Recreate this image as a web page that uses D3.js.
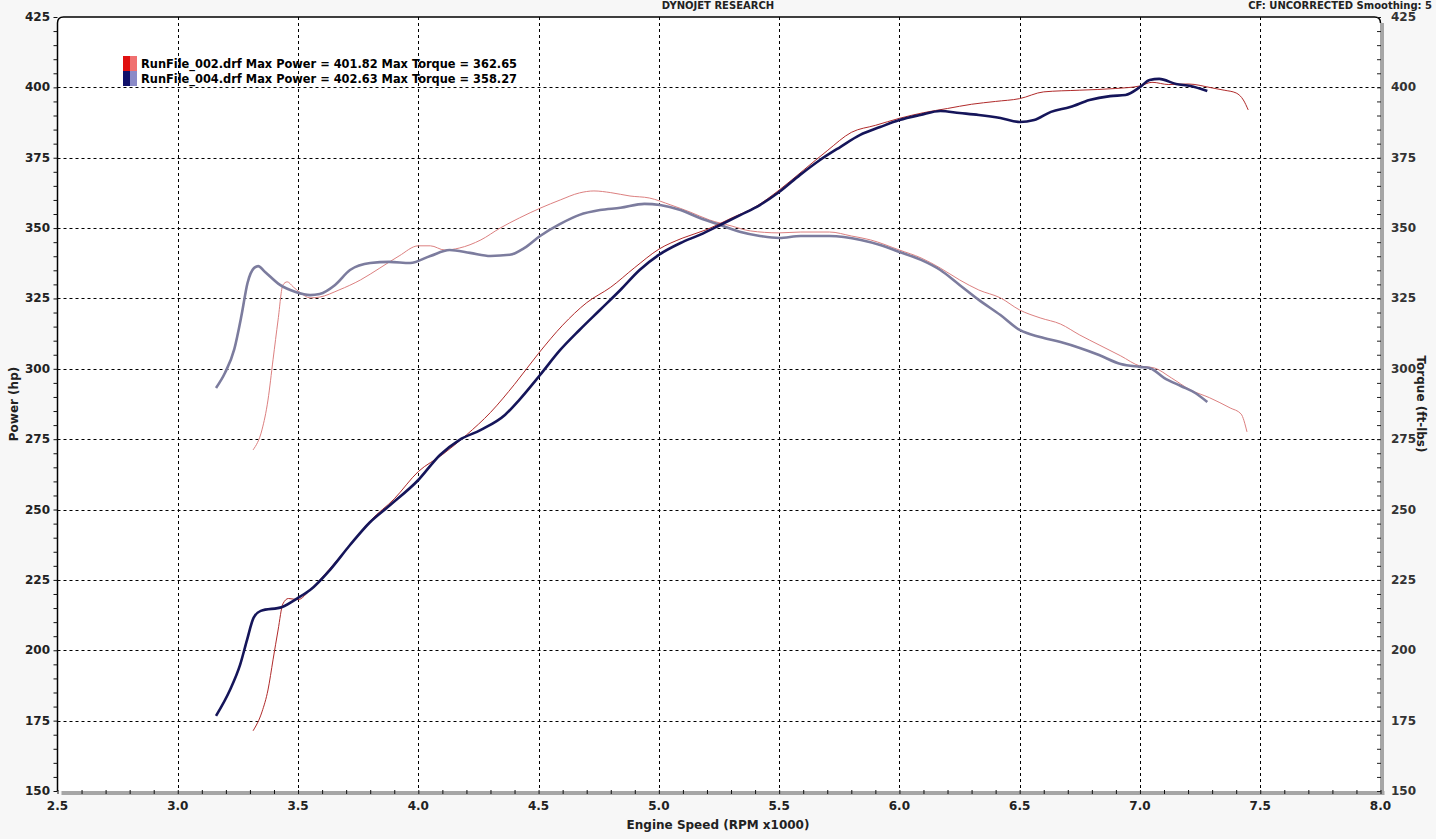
<!DOCTYPE html>
<meta charset="utf-8">
<style>
body { margin: 0; background: #f7f7f7; }
svg { display: block; font-family: "DejaVu Sans", Verdana, sans-serif; }
.tick-label { font-size: 12px; font-weight: bold; fill: #222; }
.grid { stroke: #000; stroke-width: 1; stroke-dasharray: 3,3; }
</style>
<body>
<script src="https://d3js.org/d3.v7.min.js"></script>
<script>
// rpm x1000 / value pairs
var run002Power = [[3.313,171.4],[3.35,178.1],[3.375,185.9],[3.396,196.6],[3.417,207.2],[3.437,216.5],[3.46,218.4],[3.5,218],[3.55,221.4],[3.63,228.8],[3.72,237.8],[3.8,246],[3.9,253.8],[4.0,263.5],[4.1,269.5],[4.2,276.5],[4.3,284.5],[4.4,294.5],[4.5,305.5],[4.6,315.5],[4.7,323.5],[4.8,329],[4.9,336],[5.0,342.5],[5.1,346.5],[5.2,349.5],[5.3,353.5],[5.4,357.5],[5.5,363.5],[5.6,370.5],[5.7,377.5],[5.8,384],[5.9,386.5],[6.0,389],[6.1,391],[6.2,392.5],[6.3,394],[6.4,395],[6.5,396],[6.6,398.4],[6.75,399],[6.9,399.6],[7.0,400.5],[7.05,401.8],[7.12,401],[7.2,401.2],[7.3,399.8],[7.35,399],[7.4,398],[7.43,395.5],[7.45,392]];
var run004Power = [[3.159,176.7],[3.217,185.9],[3.259,194.8],[3.288,203.7],[3.315,211.5],[3.345,214],[3.434,215.4],[3.5,218.6],[3.55,221.4],[3.633,228.6],[3.716,237.4],[3.799,245.5],[3.883,251.6],[4.0,260.5],[4.09,269.4],[4.17,274.7],[4.26,278.3],[4.36,283.6],[4.42,289],[4.506,297.8],[4.59,306.7],[4.67,313.8],[4.755,320.9],[4.84,328],[4.92,335.1],[5.0,340.5],[5.09,344.7],[5.17,347.6],[5.255,351.1],[5.34,354.7],[5.42,358.2],[5.5,362.8],[5.587,368.9],[5.67,374.2],[5.754,378.8],[5.837,383.1],[5.92,385.9],[6.0,388.4],[6.087,390.2],[6.17,391.6],[6.25,390.9],[6.33,390.2],[6.42,389.1],[6.5,387.7],[6.56,388.4],[6.63,391.3],[6.71,393],[6.79,395.5],[6.876,396.9],[6.94,397.3],[7.0,400.1],[7.04,402.6],[7.08,403],[7.15,401.2],[7.21,400.5],[7.28,398.7]];
var run002Torque = [[3.313,271.2],[3.35,278.3],[3.375,288.9],[3.396,303.2],[3.417,317.4],[3.437,329.8],[3.455,330.9],[3.48,329.1],[3.51,327],[3.55,325.2],[3.59,325.5],[3.67,328],[3.76,331.6],[3.84,335.8],[3.92,340.1],[4.0,343.7],[4.05,343.7],[4.11,342.2],[4.17,342.9],[4.26,345.8],[4.34,350],[4.42,353.6],[4.51,357.2],[4.59,360],[4.67,362.5],[4.73,363.2],[4.8,362.6],[4.88,361.4],[4.96,360.7],[5.05,358.2],[5.13,355.7],[5.21,352.9],[5.3,350.8],[5.38,349],[5.5,348.3],[5.59,348.6],[5.71,348.6],[5.8,347.2],[5.88,345.8],[6.0,342.2],[6.09,339.4],[6.17,335.8],[6.25,331.6],[6.33,328],[6.42,325.2],[6.5,320.9],[6.585,318.1],[6.67,315.9],[6.75,312],[6.83,308.5],[6.92,304.6],[7.0,301],[7.06,300.3],[7.13,296.8],[7.21,292.5],[7.29,289.7],[7.375,286.1],[7.42,284],[7.445,277.6]];
var run004Torque = [[3.159,293.2],[3.196,298.5],[3.235,307],[3.265,319],[3.29,330.5],[3.317,335.8],[3.334,336.5],[3.363,334.4],[3.425,329.8],[3.49,327.3],[3.55,326.2],[3.59,326.6],[3.654,329.8],[3.716,335.1],[3.8,337.6],[3.88,338],[3.966,337.6],[4.05,340.1],[4.13,342.2],[4.215,341.2],[4.3,340.1],[4.38,340.5],[4.44,342.9],[4.506,347.2],[4.59,351.5],[4.67,354.7],[4.755,356.4],[4.84,357.2],[4.94,358.6],[5.005,358.2],[5.09,356.4],[5.17,353.6],[5.255,351.1],[5.34,348.6],[5.42,347.2],[5.5,346.5],[5.59,347.2],[5.71,347.2],[5.84,345.8],[5.92,344],[6.0,341.5],[6.09,338.7],[6.17,335.1],[6.25,329.8],[6.33,324.5],[6.42,319.1],[6.5,313.8],[6.585,311.3],[6.67,309.5],[6.75,307.4],[6.83,304.9],[6.92,301.7],[7.0,300.7],[7.04,300.3],[7.1,296.8],[7.17,293.9],[7.23,291.4],[7.28,288.2]];

var xTicks = [2.5,3.0,3.5,4.0,4.5,5.0,5.5,6.0,6.5,7.0,7.5,8.0];
var yTicks = [150,175,200,225,250,275,300,325,350,375,400,425];
var legendText = ["RunFile_002.drf Max Power = 401.82 Max Torque = 362.65",
                  "RunFile_004.drf Max Power = 402.63 Max Torque = 358.27"];
var legendColors = [["#e01010","#f07070"],["#10106a","#8a8ac8"]];

var W = 1436, H = 839;
var pL = 57.5, pR = 1380.5, pT = 17, pB = 791;

var x = d3.scaleLinear().domain([2.5, 8.0]).range([pL, pR]);
var y = d3.scaleLinear().domain([150, 425]).range([pB, pT]);

var svg = d3.select("body").append("svg")
    .attr("width", W).attr("height", H);

// plot area with rounded top corners
svg.append("path")
    .attr("d", "M" + pL + "," + pB + " L" + pL + "," + (pT + 6) +
       " Q" + pL + "," + pT + " " + (pL + 6) + "," + pT +
       " L" + (pR - 6) + "," + pT + " Q" + pR + "," + pT + " " + pR + "," + (pT + 6) +
       " L" + pR + "," + pB + " Z")
    .attr("fill", "#fff");

// gridlines
svg.append("g").selectAll("line")
    .data(xTicks.slice(1, -1)).enter().append("line")
    .attr("class", "grid")
    .attr("x1", function(d) { return Math.round(x(d)) + 0.5; })
    .attr("x2", function(d) { return Math.round(x(d)) + 0.5; })
    .attr("y1", pT).attr("y2", pB);
svg.append("g").selectAll("line")
    .data(yTicks.slice(1, -1)).enter().append("line")
    .attr("class", "grid")
    .attr("y1", function(d) { return Math.round(y(d)) + 0.5; })
    .attr("y2", function(d) { return Math.round(y(d)) + 0.5; })
    .attr("x1", pL).attr("x2", pR);

// frame: black left/top, gray right/bottom bands
svg.append("path")
    .attr("d", "M" + pL + "," + pB + " L" + pL + "," + (pT + 6) +
       " Q" + pL + "," + pT + " " + (pL + 6) + "," + pT +
       " L" + (pR - 6) + "," + pT + " Q" + pR + "," + pT + " " + pR + "," + (pT + 6))
    .attr("fill", "none").attr("stroke", "#000").attr("stroke-width", 1.5);
svg.append("rect").attr("x", pR - 0.5).attr("y", pT + 6).attr("width", 4).attr("height", pB - pT - 2).attr("fill", "#a6a6a6");
svg.append("rect").attr("x", pL + 4).attr("y", pB).attr("width", pR - pL).attr("height", 4).attr("fill", "#a6a6a6");

// axes (minor ticks)
var minorX = d3.range(25, 81).map(function(d) { return d / 10; });
var minorY = d3.range(150, 426, 5);

var xAxis = d3.axisBottom(x).tickValues(minorX).tickSize(4).tickFormat("");
svg.append("g").attr("transform", "translate(0," + (pB - 1) + ")").call(xAxis)
    .call(function(g) { g.select(".domain").remove(); g.selectAll("line").attr("stroke", "#111"); });
svg.append("g").selectAll("text").data(xTicks).enter().append("text")
    .attr("class", "tick-label")
    .attr("x", function(d) { return x(d); }).attr("y", 810)
    .attr("text-anchor", "middle")
    .text(function(d) { return d.toFixed(1); });

var yAxisL = d3.axisLeft(y).tickValues(minorY).tickSize(4).tickFormat("");
svg.append("g").attr("transform", "translate(" + pL + ",0)").call(yAxisL)
    .call(function(g) { g.select(".domain").remove(); g.selectAll("line").attr("stroke", "#111"); });
var yAxisR = d3.axisLeft(y).tickValues(minorY).tickSize(4).tickFormat("");
svg.append("g").attr("transform", "translate(" + (pR + 0.5) + ",0)").call(yAxisR)
    .call(function(g) { g.select(".domain").remove(); g.selectAll("line").attr("stroke", "#222"); });

svg.append("g").selectAll("text").data(yTicks).enter().append("text")
    .attr("class", "tick-label")
    .attr("x", 50).attr("y", function(d) { return y(d) + 4; })
    .attr("text-anchor", "end")
    .text(function(d) { return d; });
svg.append("g").selectAll("text").data(yTicks).enter().append("text")
    .attr("class", "tick-label").style("fill", "#333")
    .attr("x", 1391).attr("y", function(d) { return y(d) + 4; })
    .text(function(d) { return d; });

// axis titles
svg.append("text").attr("class", "tick-label")
    .attr("transform", "translate(18," + ((pT + pB) / 2) + ") rotate(-90)")
    .attr("text-anchor", "middle").text("Power (hp)");
svg.append("text").attr("class", "tick-label")
    .attr("transform", "translate(1417," + ((pT + pB) / 2) + ") rotate(90)")
    .attr("text-anchor", "middle").text("Torque (ft-lbs)");
svg.append("text").attr("class", "tick-label")
    .attr("x", 718).attr("y", 829).attr("text-anchor", "middle")
    .text("Engine Speed (RPM x1000)");

// header (sits at the very top edge, as on the sheet)
svg.append("text").attr("class", "tick-label").style("font-size", "10px")
    .attr("x", 718).attr("y", 9).attr("text-anchor", "middle").text("DYNOJET RESEARCH");
svg.append("text").attr("class", "tick-label").style("font-size", "10px")
    .attr("x", 1432).attr("y", 9).attr("text-anchor", "end").text("CF: UNCORRECTED  Smoothing: 5");

// curves
var line = d3.line()
    .x(function(d) { return x(d[0]); })
    .y(function(d) { return y(d[1]); })
    .curve(d3.curveMonotoneX);

svg.append("path").datum(run002Torque).attr("d", line)
    .attr("fill", "none").attr("stroke", "#dc8080").attr("stroke-width", 1);
svg.append("path").datum(run004Torque).attr("d", line)
    .attr("fill", "none").attr("stroke", "#7c7c9e").attr("stroke-width", 2.6);
svg.append("path").datum(run002Power).attr("d", line)
    .attr("fill", "none").attr("stroke", "#b02a2a").attr("stroke-width", 1);
svg.append("path").datum(run004Power).attr("d", line)
    .attr("fill", "none").attr("stroke", "#15155a").attr("stroke-width", 2.6);

// legend
var leg = svg.append("g").attr("transform", "translate(123,56)");
legendText.forEach(function(t, i) {
  var g = leg.append("g").attr("transform", "translate(0," + (i * 15) + ")");
  g.append("rect").attr("x", 0).attr("y", 0).attr("width", 7).attr("height", 15).attr("fill", legendColors[i][0]);
  g.append("rect").attr("x", 7).attr("y", 0).attr("width", 7).attr("height", 15).attr("fill", legendColors[i][1]);
  g.append("text").attr("x", 18).attr("y", 11.5)
      .style("font-size", "11.4px").style("font-weight", "bold").style("fill", "#000")
      .text(t);
});
</script>
</body>
